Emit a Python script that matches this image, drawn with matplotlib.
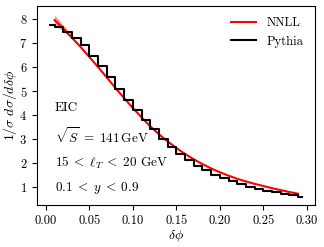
import numpy as np
import matplotlib
matplotlib.use("Agg")
import matplotlib.pyplot as plt

plt.rcParams['font.family'] = 'serif'
plt.rcParams['font.serif'] = ['cmr10']
plt.rcParams['mathtext.fontset'] = 'cm'
plt.rcParams['axes.formatter.use_mathtext'] = True

# Pythia histogram (bin centers, values)
pythia_x = [0.005, 0.015, 0.025, 0.035, 0.045, 0.055, 0.065, 0.075, 0.085, 0.095,
            0.105, 0.115, 0.125, 0.135, 0.145, 0.155, 0.165, 0.175, 0.185, 0.195,
            0.205, 0.215, 0.225, 0.235, 0.245, 0.255, 0.265, 0.275, 0.285, 0.295]
pythia_y = [7.76, 7.68, 7.47, 7.22, 6.92, 6.46, 6.06, 5.58, 5.08, 4.63,
            4.22, 3.79, 3.41, 3.03, 2.69, 2.40, 2.13, 1.90, 1.72, 1.53,
            1.38, 1.25, 1.14, 1.03, 0.94, 0.86, 0.79, 0.72, 0.67, 0.61]

# NNLL curve
nnll_x = [0.01, 0.015, 0.02, 0.03, 0.04, 0.05, 0.06, 0.07, 0.08, 0.09, 0.10,
          0.11, 0.12, 0.13, 0.14, 0.15, 0.16, 0.17, 0.18, 0.19, 0.20,
          0.21, 0.22, 0.23, 0.24, 0.25, 0.26, 0.27, 0.28, 0.29]
nnll_y = [7.95, 7.78, 7.60, 7.22, 6.83, 6.42, 6.00, 5.57, 5.13, 4.71, 4.30,
          3.91, 3.54, 3.21, 2.91, 2.64, 2.39, 2.17, 1.97, 1.79, 1.63,
          1.49, 1.36, 1.25, 1.15, 1.06, 0.97, 0.89, 0.81, 0.74]
nnll_lo = [7.78, 7.64, 7.49, 7.16, 6.80, 6.40, 5.99, 5.56, 5.12, 4.70, 4.29,
           3.90, 3.53, 3.20, 2.90, 2.63, 2.38, 2.16, 1.96, 1.78, 1.62,
           1.48, 1.35, 1.24, 1.14, 1.05, 0.96, 0.88, 0.80, 0.73]
nnll_hi = [8.16, 7.95, 7.74, 7.30, 6.87, 6.44, 6.01, 5.58, 5.14, 4.72, 4.31,
           3.92, 3.55, 3.22, 2.92, 2.65, 2.40, 2.18, 1.98, 1.80, 1.64,
           1.50, 1.37, 1.26, 1.16, 1.07, 0.98, 0.90, 0.82, 0.75]

annotations = ["EIC", r"$\sqrt{S}\;=\;141\,\mathrm{GeV}$",
               r"$15\;<\;\ell_T\;<\;20$ GeV", r"$0.1\;<\;y\;<\;0.9$"]

fig = plt.figure(figsize=(3.24, 2.47), dpi=100)
ax = fig.add_axes([0.114, 0.170, 0.857, 0.806])

ax.fill_between(nnll_x, nnll_lo, nnll_hi, color='red', alpha=0.4, lw=0)
ax.plot(nnll_x, nnll_y, color='red', lw=1.5, label='NNLL')
ax.step(pythia_x, pythia_y, where='mid', color='black', lw=1.5, label='Pythia')

ax.set_xlim(-0.0103, 0.309)
ax.set_ylim(0.27, 8.54)
ax.set_xticks([0.0, 0.05, 0.10, 0.15, 0.20, 0.25, 0.30])
ax.set_xticklabels(['0.00', '0.05', '0.10', '0.15', '0.20', '0.25', '0.30'])
ax.set_yticks([1, 2, 3, 4, 5, 6, 7, 8])
ax.tick_params(labelsize=9)
ax.set_xlabel(r'$\delta\phi$', fontsize=10, labelpad=1)
ax.set_ylabel(r'$1/\sigma\ d\sigma/d\delta\phi$', fontsize=10, labelpad=0)

ypos = [0.487, 0.347, 0.211, 0.085]
for t, yp in zip(annotations, ypos):
    ax.text(0.065, yp, t, transform=ax.transAxes, fontsize=9.5, va='center', ha='left')

ax.legend(loc='upper right', frameon=False, fontsize=9, handlelength=2.0)

fig.savefig('out.png', dpi=100)
